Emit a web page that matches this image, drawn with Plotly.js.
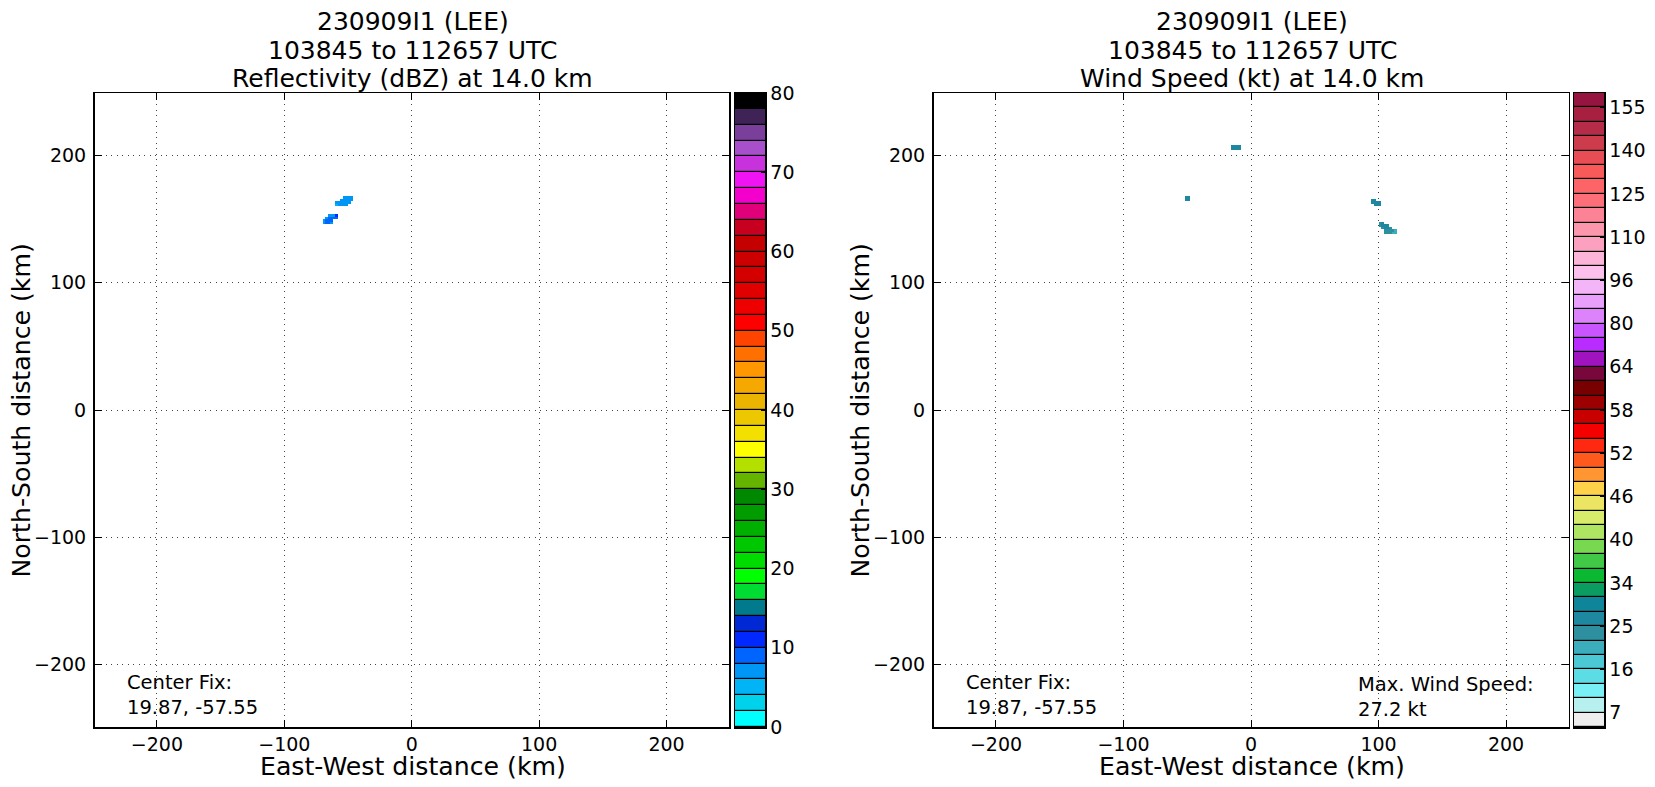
<!DOCTYPE html>
<html><head><meta charset="utf-8">
<script src="https://cdn.plot.ly/plotly-3.0.1.min.js"></script>
<style>html,body{margin:0;padding:0;background:#fff}</style></head>
<body><div id="chart" style="width:1655px;height:787px"></div>
<script>
const titleLine1 = "230909I1 (LEE)";
const titleLine2 = "103845 to 112657 UTC";
const reflTitle = "Reflectivity (dBZ) at 14.0 km";
const windTitle = "Wind Speed (kt) at 14.0 km";
const xAxisTitle = "East-West distance (km)";
const yAxisTitle = "North-South distance (km)";
const centerFix = "Center Fix:<br>19.87, -57.55";
const maxWind = "Max. Wind Speed:<br>27.2 kt";
const distanceTicks = [-200,-100,0,100,200];

// reflectivity colour bands, 0 to 80 dBZ in 2 dBZ steps, bottom to top
const reflColors = ["#00ffff","#00d2eb","#00b4f5","#0096f5","#0064ff","#0028ff","#0028d4","#007a8c","#00dc32","#00ff00",
"#00dc00","#00c800","#00b000","#009c00","#008800","#64b400","#b4e000","#ffff00","#f4e000","#ecc800",
"#ebb400","#f5a800","#ff9800","#ff7000","#ff4400","#ff0000","#ee0000","#e00000","#d40000","#cc0000",
"#c40000","#c80020","#e0007a","#f400cc","#f014f5","#c832dd","#a850cc","#7a3f9a","#3f2356","#000000"];

// wind speed band edges (kt) and colours, bottom to top
const windLevels = [7,10,13,16,19,22,25,28,31,34,36,38,40,42,44,46,48,50,52,54,56,58,60,62,64,69,75,80,85,91,96,101,105,110,115,120,125,130,135,140,145,150,155];
const windColors = ["#eeeeee","#b8f0f0","#78f0f5","#5cdde5","#4cc8d4","#3cadbc","#2e8f9f","#1e88a0","#0f8599","#0a9c60",
"#0ab832","#40c846","#78d850","#aee664","#d6ec6a","#ece463","#ffd24a","#ff9632","#ff5a1e","#ff2810",
"#f50000","#c80000","#9c0000","#780000","#78083c","#a014c0","#b82cff","#c855ff","#dc82fa","#e8a0fc",
"#f4b4f8","#fcc0ec","#fcb4d8","#fca0c0","#fc96ac","#fc8296","#fc6e78","#fc6468","#f85a5a","#e84c54",
"#cc3c4c","#b42c48","#a82040","#961440"];

// observed reflectivity cells (km, km, dBZ)
const reflX = [-53,-51,-49,-47, -55,-53,-51,-49,-47, -59,-57,-55,-53,-51,-49, -59,-57,-55,-53,-51,
  -65,-63,-61,-59, -67,-65,-63,-61,-59, -69,-67,-65,-63, -69,-67,-65,-63];
const reflY = [167,167,167,167, 165,165,165,165,165, 163,163,163,163,163,163, 161,161,161,161,161,
  153,153,153,153, 151,151,151,151,151, 149,149,149,149, 147,147,147,147];
const reflV = [7,7,7,7, 7,7,7,7,7, 7,7,7,7,7,7, 5,7,7,7,7,
  7,7,7,11, 7,9,9,9,9, 7,9,9,9, 7,9,9,7];

// observed wind speed cells (km, km, kt)
const windX = [-51,-49,-51,-49, -15,-13,-11,-9,-15,-13,-11,-9,
  95,97, 95,97,99,101, 97,99,101,
  101,103, 101,103,105,107, 103,105,107,109, 105,107,109,111,113, 105,107,109,111,113];
const windY = [167,167,165,165, 207,207,207,207,205,205,205,205,
  165,165, 163,163,163,163, 161,161,161,
  147,147, 145,145,145,145, 143,143,143,143, 141,141,141,141,141, 139,139,139,139,139];
const windV = [26,26,26,26, 26,26,26,26,26,26,26,26,
  26,26, 26,26,26,26, 26,27.2,26,
  24,26, 24,26,26,26, 24,26,26,24, 23,24,24,23,20, 23,24,24,20,20];

function stepScale(colors){
  const out=[]; const n=colors.length;
  colors.forEach((c,i)=>{out.push([i/n,c]);out.push([(i+1)/n,c]);});
  return out;
}
const gridAxis=[]; for(let v=-249;v<=249;v+=2) gridAxis.push(v);
function gridFrom(xs,ys,vs){
  const z=gridAxis.map(()=>gridAxis.map(()=>null));
  xs.forEach((x,i)=>{ z[gridAxis.indexOf(ys[i])][gridAxis.indexOf(x)]=vs[i]; });
  return z;
}
function windBand(v){ let b=0; windLevels.forEach(l=>{ if(v>=l) b++; }); return b+0.5; }

const W=1655,H=787;
const dx=p=>p/W, dy=p=>(H-p)/H;
const FONT="DejaVu Sans";
const BLACK="#000";
const mainAxis=(domain,isY,anchor)=>({
  domain:domain, range:[-249,249], tickvals:distanceTicks, tickmode:"array",
  ticks:"inside", ticklen:7, tickwidth:1, tickcolor:BLACK, showline:true, mirror:"allticks", linecolor:BLACK, linewidth:1.5,
  showgrid:true, gridcolor:"#444", gridwidth:1, griddash:"1px,4.5px", zeroline:false, anchor:anchor,
  ticklabelstandoff:isY?3:0,
  tickfont:{size:19,color:BLACK}, automargin:false
});
const barX=(domain,anchor)=>({domain:domain,range:[0,1],showticklabels:false,ticks:"",showgrid:false,zeroline:false,showline:true,mirror:true,linecolor:BLACK,linewidth:1.5,anchor:anchor});
const barY=(range,domain,anchor,extra)=>Object.assign({domain:domain,range:range,side:"right",showgrid:false,zeroline:false,showline:true,mirror:true,linecolor:BLACK,linewidth:1.5,
  ticks:"inside",ticklen:4,tickcolor:BLACK,tickfont:{size:19,color:BLACK},anchor:anchor},extra);

const yDom=[dy(727),dy(93)];
const reflBarY=reflColors.map((c,i)=>2*i+1);
const windBarY=windColors.map((c,i)=>i+0.5);
const windTickVals=[],windTickText=[];
windLevels.forEach((l,i)=>{ if(i%3===0){windTickVals.push(i+1);windTickText.push(String(l));} });

const data=[
 {type:"heatmap",x:gridAxis,y:gridAxis,z:gridFrom(reflX,reflY,reflV),xaxis:"x",yaxis:"y",zmin:0,zmax:80,colorscale:stepScale(reflColors),showscale:false,hoverongaps:false},
 {type:"heatmap",x:[0.5],y:reflBarY,z:reflBarY.map(v=>[v]),xaxis:"x2",yaxis:"y2",zmin:0,zmax:80,colorscale:stepScale(reflColors),showscale:false,ygap:1.2},
 {type:"heatmap",x:gridAxis,y:gridAxis,z:gridFrom(windX,windY,windV.map(windBand)),xaxis:"x3",yaxis:"y3",zmin:0,zmax:44,colorscale:stepScale(windColors),showscale:false,hoverongaps:false},
 {type:"heatmap",x:[0.5],y:windBarY,z:windBarY.map(v=>[v]),xaxis:"x4",yaxis:"y4",zmin:0,zmax:44,colorscale:stepScale(windColors),showscale:false,ygap:1.2}
];
const note=(text,xr,yr,x,y)=>({text:text,xref:xr,yref:yr,x:x,y:y,xanchor:"left",yanchor:"bottom",align:"left",showarrow:false,font:{size:19.5,color:BLACK}});
const head=(text,cx,py)=>({text:text,xref:"paper",yref:"paper",x:dx(cx),y:dy(py),xanchor:"center",yanchor:"middle",showarrow:false,align:"center",font:{size:25,color:BLACK}});
const axisLabel=(text,cx,py,angle)=>({text:text,xref:"paper",yref:"paper",x:dx(cx),y:dy(py),xanchor:"center",yanchor:"middle",showarrow:false,textangle:angle,font:{size:25.2,color:BLACK}});
const layout={
 width:W,height:H,margin:{l:0,r:0,t:0,b:0},paper_bgcolor:"#fff",plot_bgcolor:"#fff",font:{family:FONT,color:BLACK},showlegend:false,
 xaxis:mainAxis([dx(94.5),dx(729)],false,"y"),
 yaxis:mainAxis(yDom,true,"x"),
 xaxis2:barX([dx(735),dx(765)],"y2"),
 yaxis2:barY([0,80],yDom,"x2",{tickmode:"linear",tick0:0,dtick:10}),
 xaxis3:mainAxis([dx(933.5),dx(1568.5)],false,"y3"),
 yaxis3:mainAxis(yDom,true,"x3"),
 xaxis4:barX([dx(1574),dx(1604)],"y4"),
 yaxis4:barY([0,44],yDom,"x4",{tickmode:"array",tickvals:windTickVals,ticktext:windTickText}),
 annotations:[
  head(titleLine1,412.5,21), head(titleLine2,412.5,50), head(reflTitle,412.5,78.5),
  head(titleLine1,1252,21), head(titleLine2,1252,50), head(windTitle,1252,78.5),
  axisLabel(xAxisTitle,412.5,766,0), axisLabel(xAxisTitle,1252,766,0),
  axisLabel(yAxisTitle,21,410.5,-90), axisLabel(yAxisTitle,860,410.5,-90),
  note(centerFix,"x","y",-225,-244),
  note(centerFix,"x3","y3",-225,-244),
  note(maxWind,"x3","y3",82.5,-246)
 ],
 shapes:[
  {type:"rect",xref:"paper",yref:"paper",x0:dx(735),x1:dx(765),y0:yDom[0],y1:yDom[1],fillcolor:"#000",line:{width:0},layer:"below"},
  {type:"rect",xref:"paper",yref:"paper",x0:dx(1574),x1:dx(1604),y0:yDom[0],y1:yDom[1],fillcolor:"#000",line:{width:0},layer:"below"}
 ]
};
Plotly.newPlot("chart",data,layout,{displayModeBar:false,staticPlot:true});
</script></body></html>
